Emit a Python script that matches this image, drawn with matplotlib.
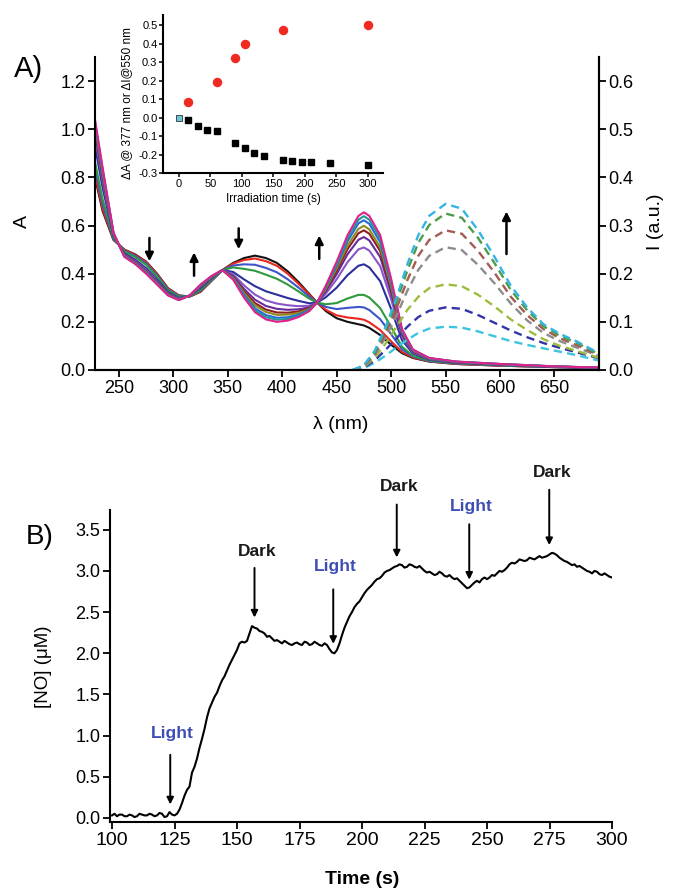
import matplotlib
matplotlib.use("Agg")
import matplotlib.pyplot as plt

plt.rcParams['font.family'] = ['Liberation Sans', 'DejaVu Sans']

# ---------------- panel A: absorption spectra during irradiation ----------------
wavelength = [228, 235, 245, 255, 265, 275, 285, 295, 305, 315, 325, 335, 345, 355, 365,
              375, 385, 395, 405, 415, 425, 432, 440, 450, 460, 470, 475, 480, 490, 500,
              510, 520, 535, 560, 600, 650, 690]

abs_0 = [.800, .660, .540, .500, .480, .450, .400, .340, .310, .305, .325, .370, .415, .445, .465,
         .475, .465, .445, .410, .365, .315, .280, .245, .215, .200, .190, .185, .175, .145, .105,
         .070, .050, .035, .025, .018, .012, .008]
abs_1 = [.812, .669, .542, .499, .478, .448, .398, .339, .309, .305, .327, .371, .415, .442, .457,
         .463, .452, .433, .400, .358, .312, .280, .250, .227, .218, .213, .209, .198, .166, .119,
         .075, .052, .036, .025, .018, .012, .008]
abs_2 = [.838, .689, .545, .495, .474, .442, .393, .335, .307, .306, .330, .373, .415, .434, .439,
         .437, .424, .406, .377, .342, .304, .280, .262, .253, .258, .262, .260, .249, .211, .149,
         .086, .056, .037, .027, .019, .012, .008]
abs_3 = [.865, .709, .548, .492, .469, .437, .388, .332, .305, .306, .333, .375, .415, .426, .420,
         .412, .396, .379, .355, .326, .296, .280, .273, .278, .297, .312, .312, .301, .257, .179,
         .097, .059, .039, .028, .020, .013, .009]
abs_4 = [.930, .757, .556, .484, .458, .423, .376, .324, .299, .308, .341, .381, .415, .407, .376,
         .348, .327, .313, .299, .287, .277, .280, .302, .342, .394, .433, .439, .426, .369, .254,
         .124, .069, .043, .030, .022, .014, .009]
abs_5 = [.966, .784, .561, .479, .452, .416, .369, .319, .296, .308, .346, .384, .415, .397, .351,
         .313, .289, .276, .269, .265, .267, .280, .317, .377, .448, .501, .509, .496, .431, .295,
         .139, .074, .045, .032, .023, .014, .009]
abs_6 = [.987, .800, .563, .477, .449, .411, .365, .317, .294, .309, .348, .386, .415, .390, .336,
         .292, .266, .254, .250, .252, .260, .280, .327, .398, .481, .541, .552, .538, .469, .320,
         .148, .077, .047, .033, .023, .014, .010]
abs_7 = [1.002, .811, .565, .475, .446, .408, .362, .315, .293, .309, .350, .387, .415, .386, .326,
         .278, .251, .239, .238, .243, .256, .280, .333, .412, .502, .568, .580, .566, .494, .336,
         .154, .079, .048, .033, .024, .014, .010]
abs_8 = [1.011, .818, .566, .474, .445, .406, .360, .314, .292, .309, .351, .388, .415, .383, .320,
         .268, .241, .229, .230, .237, .253, .280, .337, .422, .517, .586, .599, .584, .510, .347,
         .158, .081, .048, .034, .024, .015, .010]
abs_9 = [1.023, .827, .568, .472, .443, .404, .358, .312, .291, .310, .353, .389, .415, .380, .312,
         .256, .228, .217, .219, .230, .250, .280, .343, .434, .535, .609, .622, .607, .531, .361,
         .163, .083, .049, .034, .025, .015, .010]
abs_10 = [1.032, .834, .569, .471, .441, .402, .357, .311, .291, .310, .354, .389, .415, .377, .306,
          .248, .219, .209, .212, .225, .247, .280, .346, .442, .547, .624, .639, .624, .546, .370,
          .167, .084, .049, .035, .025, .015, .010]
abs_11 = [1.040, .840, .570, .470, .440, .400, .355, .310, .290, .310, .355, .390, .415, .375, .300,
          .240, .210, .200, .205, .220, .245, .280, .350, .450, .560, .640, .655, .640, .560, .380,
          .170, .085, .050, .035, .025, .015, .010]

absorbance = [abs_0, abs_1, abs_2, abs_3, abs_4, abs_5, abs_6, abs_7, abs_8, abs_9, abs_10, abs_11]
abs_colors = ['#111111', '#e8281e', '#3d55c8', '#2f9a3c', '#2a2f9c', '#8a55c8',
              '#6a2a9c', '#8e1e1e', '#8e8a1e', '#2a68d8', '#1e9a9a', '#e0208c']

# emission spectra (right axis), growing with irradiation time
em_wavelength = [465, 475, 485, 495, 505, 515, 525, 535, 550, 565, 580, 595, 610, 625, 640, 655, 670, 690]
em_0 = [0, .004, .015, .030, .047, .063, .077, .086, .090, .088, .080, .070, .060, .052, .045, .038, .031, .020]
em_1 = [0, .005, .020, .042, .066, .090, .110, .123, .130, .127, .114, .098, .082, .068, .056, .046, .037, .025]
em_2 = [0, .006, .025, .055, .090, .125, .152, .170, .178, .174, .156, .132, .105, .083, .064, .050, .040, .026]
em_3 = [0, .007, .030, .068, .113, .165, .208, .237, .255, .249, .218, .180, .138, .103, .077, .060, .047, .030]
em_4 = [0, .008, .034, .077, .128, .187, .237, .270, .290, .283, .247, .202, .152, .114, .085, .066, .052, .032]
em_5 = [0, .009, .037, .085, .141, .207, .264, .301, .325, .316, .274, .222, .166, .124, .091, .071, .057, .034]
em_6 = [0, .010, .040, .090, .150, .220, .280, .320, .345, .335, .290, .235, .175, .130, .095, .075, .060, .036]
emission = [em_0, em_1, em_2, em_3, em_4, em_5, em_6]
em_colors = ['#3cc4dc', '#3434aa', '#9cbc3c', '#8c8c8c', '#a45c52', '#4c9c4c', '#34b4e4']

# inset: changes vs irradiation time
t_abs = [15, 30, 45, 60, 90, 105, 120, 135, 165, 180, 195, 210, 240, 300]
dA_377 = [-0.015, -0.045, -0.07, -0.075, -0.135, -0.165, -0.19, -0.21, -0.23, -0.235,
          -0.24, -0.243, -0.245, -0.255]
t_em = [15, 60, 90, 105, 165, 300]
dI_550 = [0.085, 0.19, 0.325, 0.40, 0.475, 0.50]

# ---------------- panel B: NO release trace (1 s sampling) ----------------
time_s = list(range(100, 301))
no_uM = [.03, .05, .02, .04, .04, .02, .02, .04, .03, .01,
         .02, .05, .04, .03, .03, .05, .04, .02, .03, .06,
         .05, .01, .02, .07, .04, .03, .05, .10, .18, .27,
         .34, .38, .55, .62, .72, .85, .96, 1.08, 1.22, 1.33,
         1.40, 1.47, 1.52, 1.60, 1.67, 1.72, 1.79, 1.86, 1.92, 1.98,
         2.04, 2.12, 2.14, 2.13, 2.15, 2.24, 2.33, 2.31, 2.30, 2.27,
         2.26, 2.24, 2.20, 2.21, 2.18, 2.15, 2.16, 2.14, 2.12, 2.15,
         2.13, 2.11, 2.10, 2.12, 2.13, 2.11, 2.10, 2.14, 2.13, 2.10,
         2.11, 2.14, 2.12, 2.10, 2.09, 2.12, 2.10, 2.05, 2.01, 2.00,
         2.04, 2.12, 2.22, 2.31, 2.38, 2.45, 2.50, 2.56, 2.60, 2.63,
         2.68, 2.73, 2.77, 2.80, 2.83, 2.87, 2.90, 2.91, 2.94, 2.98,
         3.00, 3.01, 3.03, 3.05, 3.06, 3.08, 3.07, 3.04, 3.05, 3.08,
         3.07, 3.05, 3.04, 3.06, 3.03, 3.00, 2.98, 2.99, 2.97, 2.95,
         2.96, 2.99, 2.97, 2.94, 2.93, 2.95, 2.92, 2.90, 2.91, 2.88,
         2.85, 2.82, 2.79, 2.80, 2.83, 2.86, 2.88, 2.86, 2.90, 2.92,
         2.90, 2.92, 2.95, 2.94, 2.97, 3.00, 2.99, 3.01, 3.04, 3.08,
         3.10, 3.09, 3.11, 3.14, 3.13, 3.12, 3.13, 3.16, 3.15, 3.14,
         3.16, 3.18, 3.16, 3.17, 3.18, 3.20, 3.22, 3.21, 3.19, 3.16,
         3.14, 3.12, 3.11, 3.09, 3.07, 3.08, 3.05, 3.06, 3.04, 3.02,
         3.00, 2.99, 2.97, 3.00, 2.99, 2.96, 2.95, 2.97, 2.95, 2.93,
         2.92]

# label text, time of the switch, arrow tail/head heights, text height
events = [("Light", 123.3, 0.80, 0.13, 1.03),
          ("Dark", 157.0, 3.07, 2.40, 3.23),
          ("Light", 188.5, 2.81, 2.08, 3.05),
          ("Dark", 213.9, 3.84, 3.13, 4.02),
          ("Light", 242.9, 3.60, 2.86, 3.78),
          ("Dark", 274.9, 4.02, 3.28, 4.20)]
light_color = '#3d4fb5'

fig = plt.figure(figsize=(6.75, 8.91), dpi=100)


def style_axis(ax, size):
    for side in ['left', 'bottom', 'right']:
        ax.spines[side].set_linewidth(1.5)
    ax.spines['top'].set_visible(False)
    ax.tick_params(direction='out', length=5, width=1.3, labelsize=size, pad=2)


# panel A
axA = fig.add_axes([95 / 675, 1 - 370 / 891, 504 / 675, 313 / 891])
for spec, c in zip(absorbance, abs_colors):
    axA.plot(wavelength, spec, color=c, lw=1.5)
axA.set_xlim(228, 691)
axA.set_ylim(0, 1.3)
axA.set_xticks(range(250, 651, 50))
axA.set_yticks([0.0, 0.2, 0.4, 0.6, 0.8, 1.0, 1.2])
axA.yaxis.set_major_formatter(matplotlib.ticker.FormatStrFormatter('%.1f'))
style_axis(axA, 13)

axI = axA.twinx()
for spec, c in zip(emission, em_colors):
    axI.plot(em_wavelength, spec, color=c, lw=1.7, ls=(0, (3.5, 2.2)))
axI.set_ylim(0, 0.65)
axI.set_yticks([0.0, 0.1, 0.2, 0.3, 0.4, 0.5, 0.6])
axI.yaxis.set_major_formatter(matplotlib.ticker.FormatStrFormatter('%.1f'))
axI.spines['left'].set_visible(False)
style_axis(axI, 13)

# arrows showing direction of change
arrow_kw = dict(arrowstyle='-|>', color='black', lw=1.8, mutation_scale=12)
for x, y0, y1 in [(278, 0.56, 0.44), (319, 0.38, 0.50), (360, 0.60, 0.49), (434, 0.45, 0.57)]:
    axA.annotate('', xy=(x, y1), xytext=(x, y0), arrowprops=arrow_kw)
axI.annotate('', xy=(606, 0.335), xytext=(606, 0.235), arrowprops=arrow_kw)

fig.text(29 / 675, 1 - 69 / 891, 'A)', fontsize=21, ha='center', va='center')
fig.text(22 / 675, 1 - 222 / 891, 'A', fontsize=14, rotation=90, ha='center', va='center')
fig.text(656 / 675, 1 - 222 / 891, 'I (a.u.)', fontsize=14, rotation=90, ha='center', va='center')
fig.text(341 / 675, 1 - 424 / 891, 'λ (nm)', fontsize=14, ha='center', va='center')

# inset
axIn = fig.add_axes([163 / 675, 1 - 173 / 891, 220 / 675, 158 / 891])
axIn.plot(t_em, dI_550, 'o', color='#f02a20', ms=5.8, mec='#f02a20')
axIn.plot(t_abs, dA_377, 's', color='black', ms=5)
axIn.plot([0], [0.0], 's', color='#6cc8d8', mec='#333333', mew=0.6, ms=5)
axIn.set_xlim(-25, 324)
axIn.set_ylim(-0.3, 0.555)
axIn.set_xticks(range(0, 301, 50))
axIn.set_yticks([-0.3, -0.2, -0.1, 0.0, 0.1, 0.2, 0.3, 0.4, 0.5])
axIn.yaxis.set_major_formatter(matplotlib.ticker.FormatStrFormatter('%.1f'))
axIn.spines['right'].set_visible(False)
style_axis(axIn, 8)
axIn.tick_params(length=3, width=1.1, pad=1)
axIn.patch.set_alpha(0)
axIn.set_xlabel('Irradiation time (s)', fontsize=8.5, labelpad=3)
fig.text(127 / 675, 1 - 103 / 891, 'ΔA @ 377 nm or ΔI@550 nm', fontsize=8.5,
         rotation=90, ha='center', va='center')

# panel B
axB = fig.add_axes([110 / 675, 1 - 822 / 891, 502 / 675, 312 / 891])
axB.plot(time_s, no_uM, color='black', lw=1.5)
axB.set_xlim(99.2, 300)
axB.set_ylim(-0.05, 3.74)
axB.set_xticks(range(100, 301, 25))
axB.set_yticks([0.0, 0.5, 1.0, 1.5, 2.0, 2.5, 3.0, 3.5])
axB.yaxis.set_major_formatter(matplotlib.ticker.FormatStrFormatter('%.1f'))
axB.spines['right'].set_visible(False)
style_axis(axB, 13)
axB.tick_params(axis='x', labelsize=14)

for label, t, y_tail, y_head, y_text in events:
    col = light_color if label == "Light" else '#1a1a1a'
    axB.annotate('', xy=(t, y_head), xytext=(t, y_tail),
                 arrowprops=dict(arrowstyle='-|>', color='black', lw=1.4, mutation_scale=10),
                 annotation_clip=False)
    axB.text(t + 1.0, y_text, label, color=col, fontsize=12.5, fontweight='bold',
             ha='center', va='center', clip_on=False)

fig.text(40 / 675, 1 - 537 / 891, 'B)', fontsize=20, ha='center', va='center')
fig.text(43 / 675, 1 - 667 / 891, '[NO] (μM)', fontsize=13.5, rotation=90, ha='center', va='center')
fig.text(362 / 675, 1 - 880 / 891, 'Time (s)', fontsize=14, fontweight='bold', ha='center', va='center')

fig.savefig('out.png', dpi=100)
